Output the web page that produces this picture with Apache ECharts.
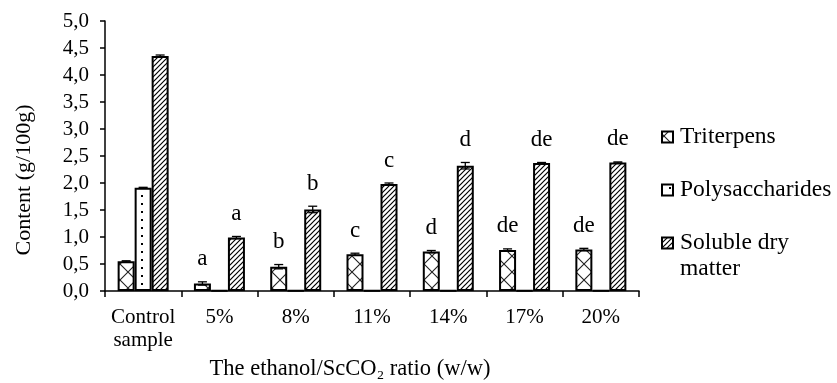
<!DOCTYPE html>
<html>
<head>
<meta charset="utf-8">
<script src="https://cdn.jsdelivr.net/npm/echarts@6/dist/echarts.min.js"></script>
<style>
  html, body { margin: 0; padding: 0; background: #fff; }
  #chart { width: 837px; height: 383px; }
</style>
</head>
<body>
<div id="chart"></div>
<script>
// Categories (ethanol / ScCO2 ratio)
const categories = ['Control\nsample', '5%', '8%', '11%', '14%', '17%', '20%'];

// Contents, g/100g
const triterpens      = [0.55, 0.14, 0.45, 0.68, 0.73, 0.76, 0.77];
const polysaccharides = [1.91, 0.01, 0.01, 0.01, 0.01, 0.01, 0.01];
const solubleDry      = [4.35, 0.99, 1.51, 1.98, 2.32, 2.37, 2.38];

// Standard deviations
const triterpensErr      = [0.01, 0.03, 0.04, 0.02, 0.02, 0.02, 0.02];
const polysaccharidesErr = [0.01, 0, 0, 0, 0, 0, 0];
const solubleDryErr      = [0.02, 0.02, 0.06, 0.02, 0.06, 0.01, 0.01];

// Significance letters
const triterpensLetters = ['', 'a', 'b', 'c', 'd', 'de', 'de'];
const polysaccharidesLetters = ['', '', '', '', '', '', ''];
const solubleDryLetters = ['', 'a', 'b', 'c', 'd', 'de', 'de'];

const seriesNames = ['Triterpens', 'Polysaccharides', 'Soluble dry matter'];

const FONT = '"Liberation Serif", "Times New Roman", serif';
const BAR_W = 17;

// ---- fill patterns ----
function makeTile(w, h, draw) {
  const c = document.createElement('canvas');
  c.width = w; c.height = h;
  const ctx = c.getContext('2d');
  ctx.fillStyle = '#fff';
  ctx.fillRect(0, 0, w, h);
  draw(ctx, w, h);
  return { image: c, repeat: 'repeat' };
}
const crossPattern = makeTile(16, 16, (ctx, w, h) => {
  ctx.strokeStyle = '#222';
  ctx.lineWidth = 1.1;
  ctx.beginPath();
  ctx.moveTo(0, 0); ctx.lineTo(w, h);
  ctx.moveTo(w, 0); ctx.lineTo(0, h);
  ctx.stroke();
});
const dotPattern = makeTile(16, 8, (ctx) => {
  ctx.fillStyle = '#000';
  ctx.fillRect(13, 3, 2, 2);
});
const diagPattern = makeTile(5, 5, (ctx, w, h) => {
  ctx.strokeStyle = '#000';
  ctx.lineWidth = 1.2;
  ctx.beginPath();
  ctx.moveTo(-1, h + 1); ctx.lineTo(w + 1, -1);
  ctx.moveTo(-1, 1); ctx.lineTo(1, -1);
  ctx.moveTo(w - 1, h + 1); ctx.lineTo(w + 1, h - 1);
  ctx.stroke();
});
const patterns = [crossPattern, dotPattern, diagPattern];

const values = [triterpens, polysaccharides, solubleDry];
const errors = [triterpensErr, polysaccharidesErr, solubleDryErr];
const letters = [triterpensLetters, polysaccharidesLetters, solubleDryLetters];

const barSeries = values.map((vals, k) => ({
  name: seriesNames[k],
  type: 'bar',
  data: vals,
  barWidth: BAR_W,
  barGap: '0%',
  itemStyle: { color: patterns[k], borderColor: '#000', borderWidth: 2 },
  emphasis: { disabled: true },
  z: 2
}));

// Error bars and significance letters, positioned from the same values
const errSeries = values.map((vals, k) => ({
  type: 'custom',
  name: seriesNames[k] + ' sd',
  data: vals.map((v, i) => [i, v, errors[k][i]]),
  encode: { x: 0, y: 1 },
  z: 5,
  silent: true,
  renderItem: function (params, api) {
    const i = api.value(0), v = api.value(1), e = api.value(2);
    const letter = letters[k][i];
    const top = api.coord([i, v + e]);
    const bot = api.coord([i, v - e]);
    const x = top[0] + (k - 1) * BAR_W;
    const cap = 4.5;
    const children = [];
    if (e > 0) {
      children.push({
        type: 'line', shape: { x1: x, y1: top[1], x2: x, y2: bot[1] },
        style: { stroke: '#000', lineWidth: 1.3 }
      }, {
        type: 'line', shape: { x1: x - cap, y1: top[1], x2: x + cap, y2: top[1] },
        style: { stroke: '#000', lineWidth: 1.3 }
      }, {
        type: 'line', shape: { x1: x - cap, y1: bot[1], x2: x + cap, y2: bot[1] },
        style: { stroke: '#000', lineWidth: 1.3 }
      });
    }
    if (letter) {
      children.push({
        type: 'text',
        style: {
          text: letter, x: x, y: top[1] - 11,
          align: 'center', verticalAlign: 'bottom',
          font: '23px ' + FONT, fill: '#000'
        }
      });
    }
    return { type: 'group', children: children };
  }
}));

// Side key
const legendX = 662;
const legendRows = [137, 190, 243];
const legendTexts = ['Triterpens', 'Polysaccharides', 'Soluble dry\nmatter'];
const legendGraphics = [];
legendRows.forEach((cy, k) => {
  legendGraphics.push({
    type: 'rect',
    shape: { x: legendX, y: cy - 5.5, width: 11, height: 11 },
    style: { fill: patterns[k], stroke: '#000', lineWidth: 2 }
  });
  legendGraphics.push({
    type: 'text',
    style: {
      text: legendTexts[k], x: legendX + 18, y: cy - 13,
      verticalAlign: 'top', align: 'left',
      font: '23.5px ' + FONT, lineHeight: 26, fill: '#000'
    }
  });
});

const chart = echarts.init(document.getElementById('chart'), null, { renderer: 'canvas' });
chart.setOption({
  animation: false,
  backgroundColor: '#fff',
  grid: { left: 105, right: 198, top: 21, bottom: 92, containLabel: false, outerBoundsMode: 'none' },
  xAxis: {
    type: 'category',
    data: categories,
    name: 'The ethanol/ScCO\u2082 ratio (w/w)',
    nameLocation: 'middle',
    nameGap: 67,
    nameTextStyle: { fontFamily: FONT, fontSize: 22.5, color: '#000', padding: [0, 44, 0, 0] },
    axisLine: { lineStyle: { color: '#000', width: 1.5 } },
    axisTick: { show: true, length: 6, lineStyle: { color: '#000', width: 1.5 } },
    axisLabel: { fontFamily: FONT, fontSize: 21, color: '#000', lineHeight: 23, margin: 15, interval: 0 }
  },
  yAxis: {
    type: 'value',
    min: 0, max: 5, interval: 0.5,
    name: 'Content (g/100g)',
    nameLocation: 'middle',
    nameGap: 70,
    nameTextStyle: { fontFamily: FONT, fontSize: 22, color: '#000', padding: [0, 48, 0, 0] },
    axisLine: { show: true, lineStyle: { color: '#000', width: 1.5 } },
    axisTick: { show: true, length: 5, lineStyle: { color: '#000', width: 1.5 } },
    splitLine: { show: false },
    axisLabel: {
      fontFamily: FONT, fontSize: 21, color: '#000', margin: 16,
      formatter: v => v.toFixed(1).replace('.', ',')
    }
  },
  graphic: legendGraphics,
  series: barSeries.concat(errSeries)
});
</script>
</body>
</html>
